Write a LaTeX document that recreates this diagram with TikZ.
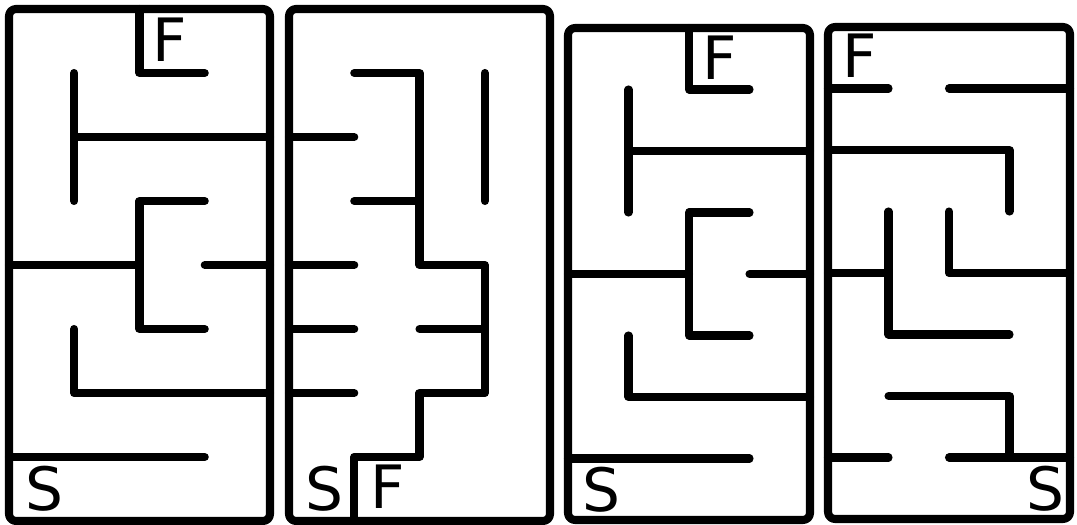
\documentclass[tikz,border=0pt]{standalone}
\usepackage{fontspec}
\newfontfamily\lblfont{DejaVu Sans}
\begin{document}
\begin{tikzpicture}[x=0.01cm, y=-0.01cm,
    wall/.style={line width=2.3pt, line cap=round, line join=round},
    outer/.style={wall, rounded corners=2pt},
    lbl/.style={font=\lblfont\fontsize{17}{17}\selectfont, inner sep=0pt}]
    \useasboundingbox (0,0) rectangle (1077,525);
    \begin{scope}[shift={(9,9)}, xscale=65.25, yscale=64]
        \draw[outer] (0,0) rectangle (4,8);
        \draw[wall] (2,0) -- (2,1) -- (3,1);
        \draw[wall] (1,1) -- (1,3);
        \draw[wall] (1,2) -- (4,2);
        \draw[wall] (3,3) -- (2,3) -- (2,5) -- (3,5);
        \draw[wall] (0,4) -- (2,4);
        \draw[wall] (3,4) -- (4,4);
        \draw[wall] (1,5) -- (1,6) -- (4,6);
        \draw[wall] (0,7) -- (3,7);
        \node[lbl] (f1) at (2.47,0.48) {F};
        \node[lbl] (s1) at (0.54,7.5) {S};
    \end{scope}
    \begin{scope}[shift={(289,9)}, xscale=65.25, yscale=64]
        \draw[outer] (0,0) rectangle (4,8);
        \draw[wall] (1,1) -- (2,1) -- (2,4) -- (3,4) -- (3,6) -- (2,6) -- (2,7) -- (1,7) -- (1,8);
        \draw[wall] (0,2) -- (1,2);
        \draw[wall] (1,3) -- (2,3);
        \draw[wall] (3,1) -- (3,3);
        \draw[wall] (0,4) -- (1,4);
        \draw[wall] (0,5) -- (1,5);
        \draw[wall] (2,5) -- (3,5);
        \draw[wall] (0,6) -- (1,6);
        \node[lbl] (s2) at (0.54,7.5) {S};
        \node[lbl] (f2) at (1.52,7.47) {F};
    \end{scope}
    \begin{scope}[shift={(568,28)}, xscale=60.5, yscale=61.5]
        \draw[outer] (0,0) rectangle (4,8);
        \draw[wall] (2,0) -- (2,1) -- (3,1);
        \draw[wall] (1,1) -- (1,3);
        \draw[wall] (1,2) -- (4,2);
        \draw[wall] (3,3) -- (2,3) -- (2,5) -- (3,5);
        \draw[wall] (0,4) -- (2,4);
        \draw[wall] (3,4) -- (4,4);
        \draw[wall] (1,5) -- (1,6) -- (4,6);
        \draw[wall] (0,7) -- (3,7);
        \node[lbl] (f3) at (2.51,0.49) {F};
        \node[lbl] (s3) at (0.56,7.5) {S};
    \end{scope}
    \begin{scope}[shift={(828,27)}, xscale=60.5, yscale=61.5]
        \draw[outer] (0,0) rectangle (4,8);
        \draw[wall] (0,1) -- (1,1);
        \draw[wall] (2,1) -- (4,1);
        \draw[wall] (0,2) -- (3,2) -- (3,3);
        \draw[wall] (1,3) -- (1,5) -- (3,5);
        \draw[wall] (0,4) -- (1,4);
        \draw[wall] (2,3) -- (2,4) -- (4,4);
        \draw[wall] (1,6) -- (3,6) -- (3,7);
        \draw[wall] (0,7) -- (1,7);
        \draw[wall] (2,7) -- (4,7);
        \node[lbl] (f4) at (0.53,0.47) {F};
        \node[lbl] (s4) at (3.59,7.5) {S};
    \end{scope}
\end{tikzpicture}
\end{document}
